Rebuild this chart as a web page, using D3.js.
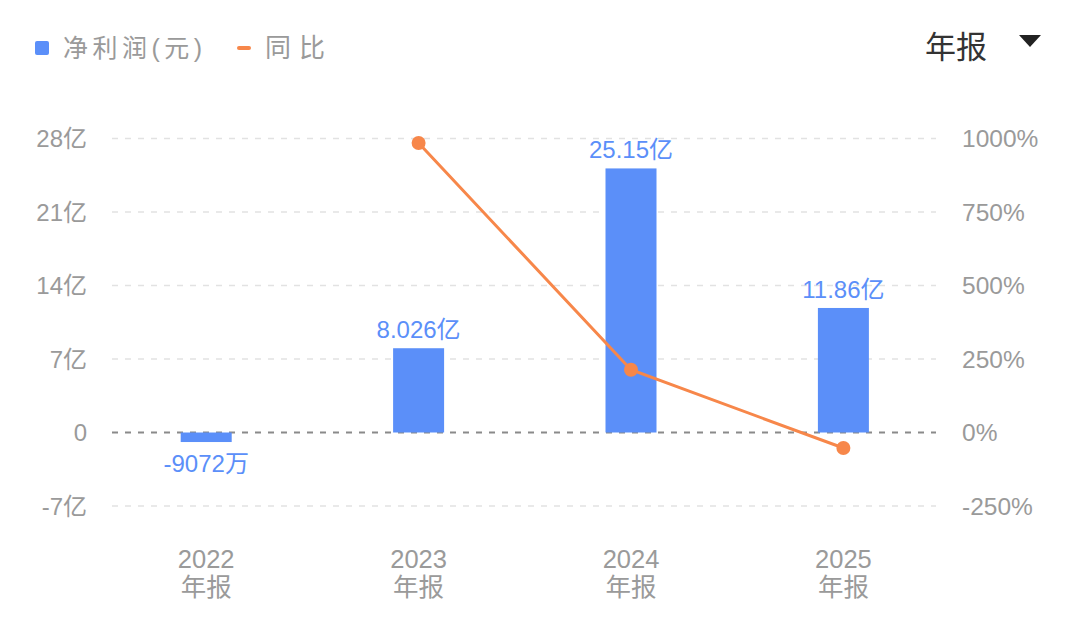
<!DOCTYPE html>
<html><head><meta charset="utf-8">
<script src="https://cdn.jsdelivr.net/npm/d3@7"></script>
<style>
html,body{margin:0;padding:0;background:#fff;}
text{font-family:"Liberation Sans","Noto Sans CJK SC",sans-serif;}
</style></head>
<body><svg id="c" width="1080" height="625"></svg>
<script>
const years = ["2022","2023","2024","2025"];
const profit = [-0.9072, 8.026, 25.15, 11.86];           // 亿元
const profitLabels = ["-9072万","8.026亿","25.15亿","11.86亿"];
const yoy = [null, 984.7, 213.4, -52.8];                 // %
const leftTicks = [-7, 0, 7, 14, 21, 28];
const leftTickLabels = ["-7亿","0","7亿","14亿","21亿","28亿"];
const rightTicks = [-250, 0, 250, 500, 750, 1000];
const rightTickLabels = ["-250%","0%","250%","500%","750%","1000%"];

const svg = d3.select("#c");
const BAR = "#5B8FF9", LINE = "#F7874A", GRAY = "#9a9a9a";

const x = d3.scalePoint().domain(years).range([100, 949.6]).padding(0.5);
const y = d3.scaleLinear().domain([-7, 28]).range([506, 138.5]);
const y2 = d3.scaleLinear().domain([-250, 1000]).range([506, 138.5]);

// grid
const grid = svg.append("g");
leftTicks.forEach((t,i)=>{
  grid.append("line").attr("x1",112).attr("x2",936)
    .attr("y1",y(t)).attr("y2",y(t))
    .attr("stroke", t===0 ? "#8a8a8a" : "#e2e2e2")
    .attr("stroke-width", t===0 ? 2 : 1.5)
    .attr("stroke-dasharray","6,7");
});

// left axis labels
const la = svg.append("g");
leftTicks.forEach((t,i)=>{
  la.append("text").attr("x",87).attr("y",y(t)).attr("dy","0.36em")
    .attr("text-anchor","end").attr("font-size",24).attr("fill",GRAY)
    .text(leftTickLabels[i]);
});
// right axis labels
rightTicks.forEach((t,i)=>{
  la.append("text").attr("x",962).attr("y",y2(t)).attr("dy","0.36em")
    .attr("text-anchor","start").attr("font-size",24.5).attr("fill",GRAY)
    .text(rightTickLabels[i]);
});

// bars
const bw = 51;
svg.append("g").selectAll("rect").data(years).join("rect")
  .attr("x", d=>x(d)-bw/2).attr("width", bw)
  .attr("y", (d,i)=>y(Math.max(0,profit[i])))
  .attr("height", (d,i)=>Math.abs(y(profit[i])-y(0)))
  .attr("fill", BAR);

// bar labels
svg.append("g").selectAll("text").data(years).join("text")
  .attr("x", d=>x(d))
  .attr("y", (d,i)=> profit[i]>=0 ? y(profit[i]) - 10 : y(profit[i]) + 30)
  .attr("text-anchor","middle").attr("font-size",24).attr("fill",BAR)
  .text((d,i)=>profitLabels[i]);

// line
const pts = years.map((d,i)=>({x:x(d), v:yoy[i]})).filter(p=>p.v!==null);
svg.append("path").datum(pts)
  .attr("d", d3.line().x(p=>p.x).y(p=>y2(p.v)))
  .attr("fill","none").attr("stroke",LINE).attr("stroke-width",3);
svg.append("g").selectAll("circle").data(pts).join("circle")
  .attr("cx",p=>p.x).attr("cy",p=>y2(p.v)).attr("r",7).attr("fill",LINE);

// x labels
const xl = svg.append("g");
years.forEach(d=>{
  xl.append("text").attr("x",x(d)).attr("y",568).attr("text-anchor","middle")
    .attr("font-size",25.5).attr("fill",GRAY).text(d);
  xl.append("text").attr("x",x(d)).attr("y",596).attr("text-anchor","middle")
    .attr("font-size",25.5).attr("fill",GRAY).text("年报");
});

// legend
const lg = svg.append("g");
lg.append("rect").attr("x",35).attr("y",41).attr("width",14).attr("height",14).attr("rx",2).attr("fill",BAR);
lg.append("text").attr("x",63).attr("y",57).attr("font-size",25).attr("fill",GRAY)
  .attr("textLength",139).attr("lengthAdjust","spacing").text("净利润(元)");
lg.append("rect").attr("x",237).attr("y",46).attr("width",14).attr("height",4).attr("rx",2).attr("fill",LINE);
lg.append("text").attr("x",265).attr("y",57).attr("font-size",26).attr("fill",GRAY)
  .attr("textLength",60).attr("lengthAdjust","spacing").text("同比");

// dropdown
svg.append("text").attr("x",925).attr("y",58).attr("font-size",31).attr("fill","#333").text("年报");
svg.append("path").attr("d","M1019,35 L1041,35 L1030,47 Z").attr("fill","#222");
</script></body></html>
